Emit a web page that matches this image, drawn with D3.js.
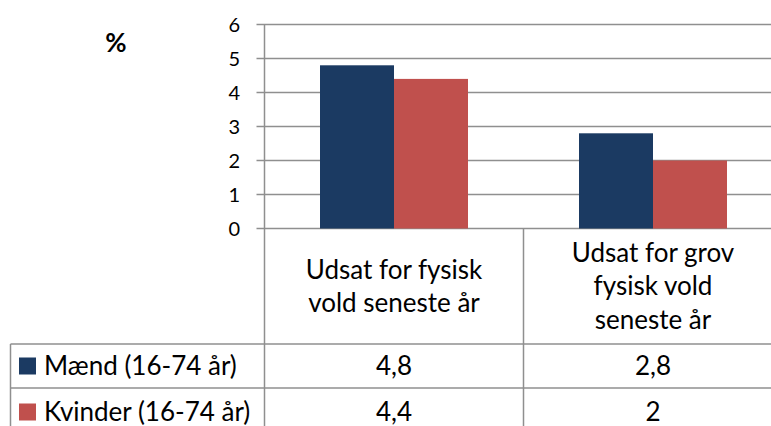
<!DOCTYPE html>
<html>
<head>
<meta charset="utf-8">
<script src="https://cdn.jsdelivr.net/npm/d3@7"></script>
<style>
  body { margin: 0; background: #fff; }
  text { font-family: Lato, "Open Sans", sans-serif; fill: #000; }
</style>
</head>
<body>
<script>
// data
var categories = ["Udsat for fysisk vold seneste år", "Udsat for grov fysisk vold seneste år"];
var categoryLines = [["Udsat for fysisk", "vold seneste år"], ["Udsat for grov", "fysisk vold", "seneste år"]];
var seriesNames = ["Mænd (16-74 år)", "Kvinder (16-74 år)"];
var maend = [4.8, 2.8];
var kvinder = [4.4, 2];
var yTicks = [0, 1, 2, 3, 4, 5, 6];
var colors = ["#1b3a62", "#c0504d"];

var W = 771, H = 426;
var gridColor = "#8f8f8f";
var svg = d3.select("body").append("svg").attr("width", W).attr("height", H);

var axisX = 264.5;
var y = d3.scaleLinear().domain([0, 6]).range([228.5, 24.5]);
var x0 = d3.scaleBand().domain(categories).range([axisX, axisX + 2 * 259]);
var x1 = d3.scaleBand().domain(seriesNames).range([0, x0.bandwidth()]).paddingOuter(0.75);

// gridlines with tick stubs
svg.append("g").selectAll("line").data(yTicks).enter().append("line")
  .attr("x1", axisX - 8).attr("x2", W)
  .attr("y1", function(d){ return y(d); }).attr("y2", function(d){ return y(d); })
  .attr("stroke", gridColor).attr("stroke-width", 1.5);

svg.append("g").selectAll("text").data(yTicks).enter().append("text")
  .attr("x", 240).attr("y", function(d){ return y(d); })
  .attr("dy", "0.35em").attr("text-anchor", "end")
  .style("font-size", "20px")
  .text(function(d){ return d; });

svg.append("text").attr("x", 116).attr("y", 52).attr("text-anchor", "middle")
  .style("font-size", "26px").style("font-weight", "bold").text("%");

// bars
var series = [maend, kvinder];
series.forEach(function(vals, si) {
  svg.append("g").selectAll("rect").data(vals).enter().append("rect")
    .attr("x", function(d, i){ return x0(categories[i]) + x1(seriesNames[si]); })
    .attr("width", x1.bandwidth())
    .attr("y", function(d){ return y(d); })
    .attr("height", function(d){ return y(0) - y(d); })
    .attr("fill", colors[si]);
});

// y axis line
svg.append("line").attr("x1", axisX).attr("x2", axisX).attr("y1", y(6)).attr("y2", H)
  .attr("stroke", gridColor).attr("stroke-width", 1.5);

// data table
var rowTop = [344, 388];
var rowMid = [366, 412];
var tableLeft = 10.5;
var tbl = svg.append("g");
tbl.selectAll("line.h").data(rowTop).enter().append("line")
  .attr("x1", tableLeft).attr("x2", W)
  .attr("y1", function(d){ return d; }).attr("y2", function(d){ return d; })
  .attr("stroke", gridColor).attr("stroke-width", 1.5);
tbl.append("line").attr("x1", tableLeft).attr("x2", tableLeft).attr("y1", rowTop[0]).attr("y2", H)
  .attr("stroke", gridColor).attr("stroke-width", 1.5);
tbl.selectAll("line.v").data(categories.slice(1)).enter().append("line")
  .attr("x1", function(d){ return x0(d); }).attr("x2", function(d){ return x0(d); })
  .attr("y1", y(0)).attr("y2", H)
  .attr("stroke", gridColor).attr("stroke-width", 1.5);

// category labels
categories.forEach(function(c, i) {
  var lines = categoryLines[i];
  var cy = (y(0) + rowTop[0]) / 2;
  var lh = 33.5;
  var t = tbl.append("text").attr("text-anchor", "middle").style("font-size", "26px");
  lines.forEach(function(l, j) {
    t.append("tspan").attr("x", x0(c) + x0.bandwidth() / 2)
      .attr("y", cy + (j - (lines.length - 1) / 2) * lh).attr("dy", "0.35em").text(l);
  });
});

// value rows with legend keys
series.forEach(function(vals, si) {
  var cy = rowMid[si];
  tbl.append("rect").attr("x", 19).attr("y", cy - 8.5).attr("width", 17).attr("height", 17).attr("fill", colors[si]);
  tbl.append("text").attr("x", 44).attr("y", cy).attr("dy", "0.35em").style("font-size", "26px").text(seriesNames[si]);
  tbl.selectAll(null).data(vals).enter().append("text")
    .attr("x", function(d, i){ return x0(categories[i]) + x0.bandwidth() / 2; })
    .attr("y", cy).attr("dy", "0.35em").attr("text-anchor", "middle").style("font-size", "26px")
    .text(function(d){ return String(d).replace(".", ","); });
});
</script>
</body>
</html>
